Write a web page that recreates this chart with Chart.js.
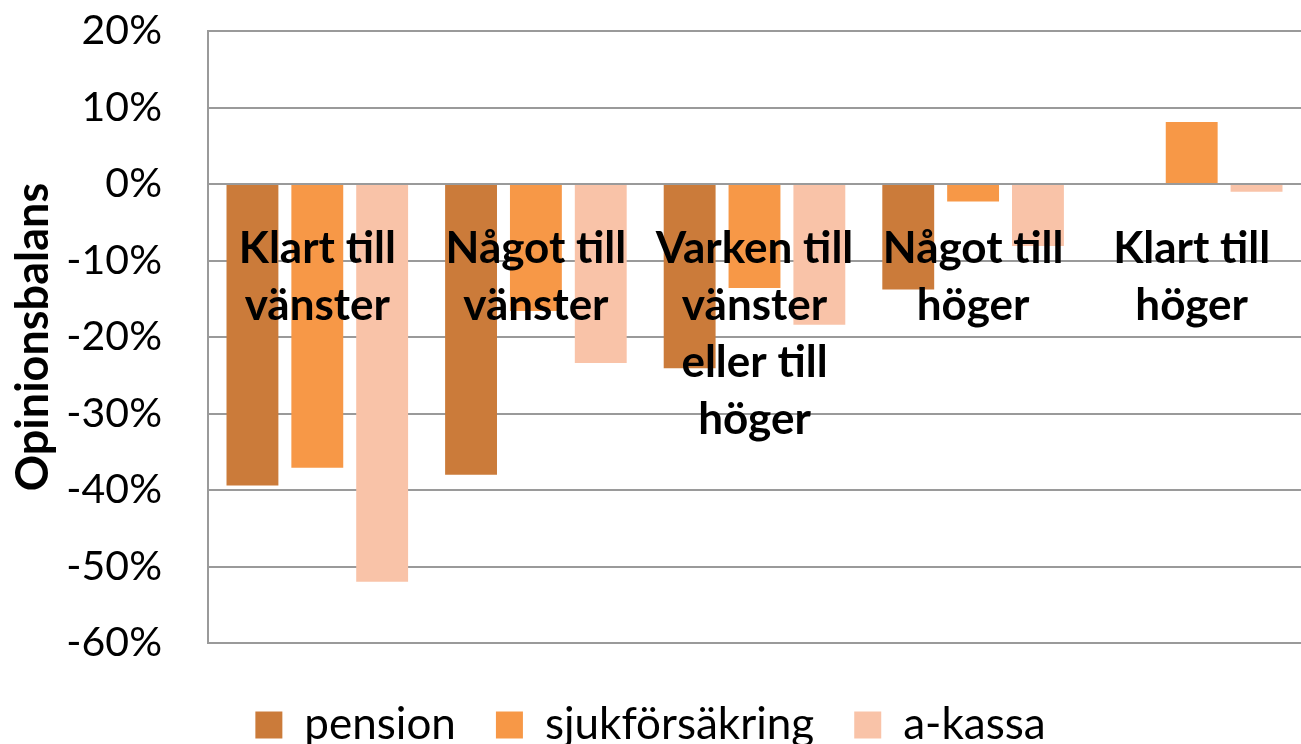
<!DOCTYPE html>
<html>
<head>
<meta charset="utf-8">
<script src="https://cdn.jsdelivr.net/npm/chart.js@4/dist/chart.umd.min.js"></script>
<style>
  html, body { margin: 0; padding: 0; background: #fff; }
  #wrap { width: 1301px; height: 744px; }
</style>
</head>
<body>
<div id="wrap"><canvas id="chart" width="1301" height="744"></canvas></div>
<script>
// kategorier (flerradiga etiketter)
var Kategorier = [
    ['Klart till', 'vänster'],
    ['Något till', 'vänster'],
    ['Varken till', 'vänster', 'eller till', 'höger'],
    ['Något till', 'höger'],
    ['Klart till', 'höger']
];

// opinionsbalans i procent
var Pension        = [-39.4, -38.0, -24.1, -13.8, 0];
var Sjukforsakring = [-37.1, -16.6, -13.6, -2.3, 8.1];
var Akassa         = [-52.0, -23.4, -18.4, -8.1, -1.0];

var SerieNamn = ['pension', 'sjukförsäkring', 'a-kassa'];
var Farger = ['#CB7B3A', '#F79847', '#F9C3A8'];

var TypSnitt = "Lato, 'Open Sans', sans-serif";

function getBarDataset(_label, _farg, _data) {
    return {
        label: _label,
        data: _data,
        backgroundColor: _farg,
        borderWidth: 0,
        barPercentage: 0.8,
        categoryPercentage: 0.89
    };
}

var ctx = document.getElementById('chart');
var BarChart = new Chart(ctx, {
    type: 'bar',
    data: {
        labels: Kategorier,
        datasets: [
            getBarDataset(SerieNamn[0], Farger[0], Pension),
            getBarDataset(SerieNamn[1], Farger[1], Sjukforsakring),
            getBarDataset(SerieNamn[2], Farger[2], Akassa)
        ]
    },
    options: {
        responsive: false,
        animation: false,
        layout: { padding: { top: 0, right: 0, left: 0, bottom: -13 } },
        plugins: {
            tooltip: { enabled: false },
            legend: {
                position: 'bottom',
                // tom titel ger luft mellan diagram och förklaring
                title: { display: true, text: ' ', font: { size: 10 }, padding: 4 },
                labels: {
                    color: '#000',
                    font: { family: TypSnitt, size: 44 },
                    boxWidth: 27,
                    boxHeight: 27,
                    padding: 40
                }
            }
        },
        scales: {
            x: {
                position: { y: 0 },
                grid: { display: false },
                border: { display: false },
                ticks: {
                    z: 1,
                    autoSkip: false,
                    maxRotation: 0,
                    padding: 28,
                    color: '#000',
                    font: { family: TypSnitt, size: 44, weight: 'bold', lineHeight: 1.3 }
                }
            },
            y: {
                min: -60,
                max: 20,
                afterFit: function (scale) {
                    scale.width = 208;
                    scale.paddingTop = 31;      // annars räknas ticks.padding in vertikalt
                    scale.paddingBottom = 25;
                },
                grid: { color: '#9A9A9A', lineWidth: 2, drawTicks: false },
                border: { color: '#9A9A9A', width: 2 },
                title: {
                    display: true,
                    text: 'Opinionsbalans',
                    color: '#000',
                    font: { family: TypSnitt, size: 45, weight: 'bold', lineHeight: 1.2 },
                    padding: { top: 6, bottom: 0 }
                },
                ticks: {
                    stepSize: 10,
                    padding: 46,
                    color: '#000',
                    font: { family: TypSnitt, size: 41 },
                    callback: function (v) { return v + '%'; }
                }
            }
        }
    }
});
</script>
</body>
</html>
